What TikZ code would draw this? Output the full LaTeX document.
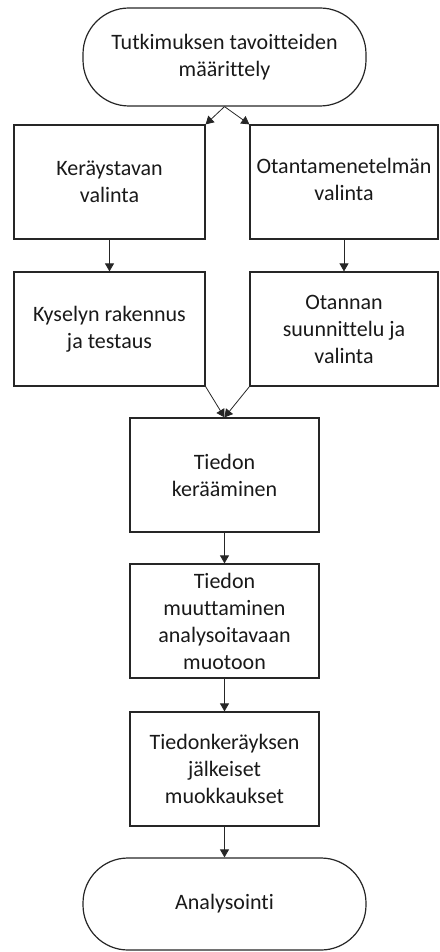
\documentclass[tikz,border=0pt]{standalone}
\usepackage{fontspec}
\setmainfont{Carlito}[Ligatures=NoCommon]
\usetikzlibrary{arrows.meta}
\begin{document}
\begin{tikzpicture}[x=1pt,y=-1pt,
  box/.style={draw=black!85,line width=1.2pt,rectangle,inner sep=0pt,align=center,
    font=\fontsize{22}{27}\selectfont,text=black!90},
  term/.style={box,rounded corners=46pt},
  arr/.style={draw=black!85,line width=0.8pt,-{Triangle[length=8pt,width=9pt]}}]
\useasboundingbox (0,0) rectangle (439,952);
\node[term,minimum width=283pt,minimum height=98pt] (t1) at (224.5,57) {Tutkimuksen tavoitteiden\\määrittely};
\node[box,minimum width=191pt,minimum height=114pt] (a1) at (109.5,182) {Keräystavan\\valinta};
\node[box,minimum width=188pt,minimum height=114pt] (b1) at (344,182) {\raisebox{-6pt}{\begin{tabular}{@{}c@{}}Otantamenetelmän\\valinta\end{tabular}}};
\node[box,minimum width=191pt,minimum height=114pt] (a2) at (109.5,329) {Kyselyn rakennus\\ja testaus};
\node[box,minimum width=188pt,minimum height=114pt] (b2) at (344,329) {Otannan\\suunnittelu ja\\valinta};
\node[box,minimum width=189pt,minimum height=114pt] (c1) at (224.5,475) {Tiedon\\kerääminen};
\node[box,minimum width=189pt,minimum height=114pt] (c2) at (224.5,621) {Tiedon\\muuttaminen\\analysoitavaan\\muotoon};
\node[box,minimum width=189pt,minimum height=114pt] (c3) at (224.5,769) {Tiedonkeräyksen\\jälkeiset\\muokkaukset};
\node[term,minimum width=283pt,minimum height=92pt,rounded corners=45pt] (t2) at (224.5,904) {\raisebox{-8pt}{Analysointi}};
\draw[arr] (t1.south) -- (a1.north east);
\draw[arr] (t1.south) -- (b1.north west);
\draw[arr] (a1.south) -- (a2.north);
\draw[arr] (b1.south) -- (b2.north);
\draw[arr] (a2.south east) -- (c1.north);
\draw[arr] (b2.south west) -- (c1.north);
\draw[arr] (c1.south) -- (c2.north);
\draw[arr] (c2.south) -- (c3.north);
\draw[arr] (c3.south) -- (t2.north);
\end{tikzpicture}
\end{document}
